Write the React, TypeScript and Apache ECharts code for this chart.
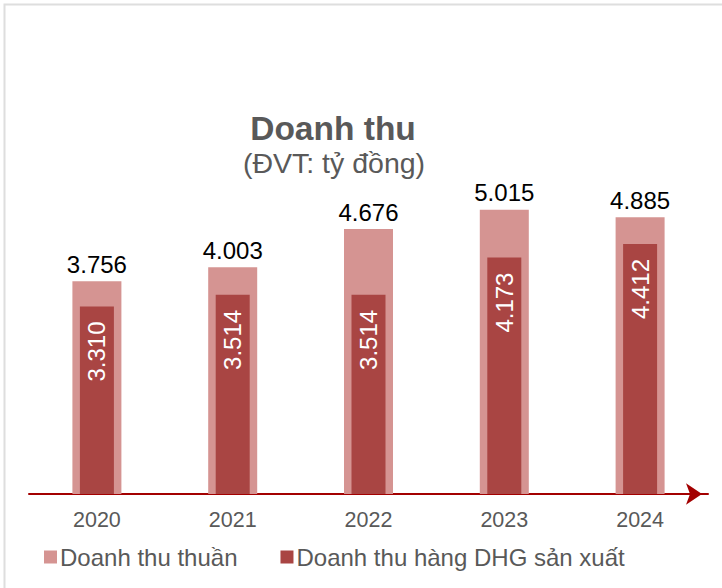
import React, { useEffect, useRef } from "react";
import * as echarts from "echarts";

const years = ["2020", "2021", "2022", "2023", "2024"];
const netRevenue = [3756, 4003, 4676, 5015, 4885];
const dhgRevenue = [3310, 3514, 3514, 4173, 4412];
const seriesNames = ["Doanh thu thuần", "Doanh thu hàng DHG sản xuất"];
const titleText = "Doanh thu";
const subtitleText = "(ĐVT: tỷ đồng)";

const FONT = "'Liberation Sans', Arial, sans-serif";
const fmt = (v: number) => String(v).replace(/\B(?=(\d{3})+(?!\d))/g, ".");

export default function App() {
  const ref = useRef<HTMLDivElement>(null);
  useEffect(() => {
    if (!ref.current) return;
    const chart = echarts.init(ref.current, undefined, { renderer: "svg" });
    chart.setOption({
      animation: false,
      backgroundColor: "#ffffff",
      textStyle: { fontFamily: FONT },
      grid: { left: 29, right: 14, top: 154, bottom: 94 },
      graphic: [
        {
          type: "rect",
          silent: true,
          shape: { x: 4.5, y: 4.5, width: 740, height: 600 },
          style: { fill: "none", stroke: "#dedede", lineWidth: 2 },
        },
        {
          type: "text",
          x: 333,
          y: 128,
          style: {
            text: titleText,
            fontFamily: FONT,
            fontWeight: "bold",
            fontSize: 33.5,
            fill: "#595959",
            align: "center",
            verticalAlign: "middle",
          },
        },
        {
          type: "text",
          x: 334,
          y: 163,
          style: {
            text: subtitleText,
            fontFamily: FONT,
            fontSize: 28.5,
            fill: "#595959",
            align: "center",
            verticalAlign: "middle",
          },
        },
      ],
      legend: {
        data: seriesNames,
        left: 39,
        top: 540,
        icon: "rect",
        itemWidth: 13,
        itemHeight: 13,
        itemGap: 43,
        textStyle: { fontFamily: FONT, fontSize: 24, color: "#595959", padding: [0, 0, 0, -2] },
      },
      xAxis: [
        {
          type: "category",
          data: years,
          axisTick: { show: false },
          axisLine: {
            show: true,
            symbol: ["none", "arrow"],
            symbolSize: [16, 16],
            symbolOffset: [0, -6],
            lineStyle: { color: "#A30000", width: 2 },
          },
          axisLabel: { fontFamily: FONT, fontSize: 21.5, color: "#595959", margin: 15 },
        },
        {
          type: "category",
          data: years,
          show: false,
          position: "bottom",
        },
      ],
      yAxis: {
        type: "value",
        min: 0,
        max: 6000,
        show: false,
        splitLine: { show: false },
      },
      series: [
        {
          name: seriesNames[0],
          type: "bar",
          xAxisIndex: 0,
          data: netRevenue,
          barWidth: 49,
          itemStyle: { color: "#D59492" },
          label: {
            show: true,
            position: "top",
            distance: 5,
            fontFamily: FONT,
            fontSize: 24,
            color: "#000000",
            formatter: (p: any) => fmt(p.value),
          },
        },
        {
          name: seriesNames[1],
          type: "bar",
          xAxisIndex: 1,
          data: dhgRevenue,
          barWidth: 34,
          itemStyle: { color: "#A94543" },
          label: {
            show: true,
            position: "insideTop",
            rotate: 90,
            align: "right",
            verticalAlign: "middle",
            distance: 15,
            fontFamily: FONT,
            fontSize: 24,
            color: "#ffffff",
            formatter: (p: any) => fmt(p.value),
          },
        },
      ],
    });
    return () => chart.dispose();
  }, []);
  return (
    <div
      ref={ref}
      style={{ position: "absolute", left: 0, top: 0, width: 722, height: 588 }}
    />
  );
}
